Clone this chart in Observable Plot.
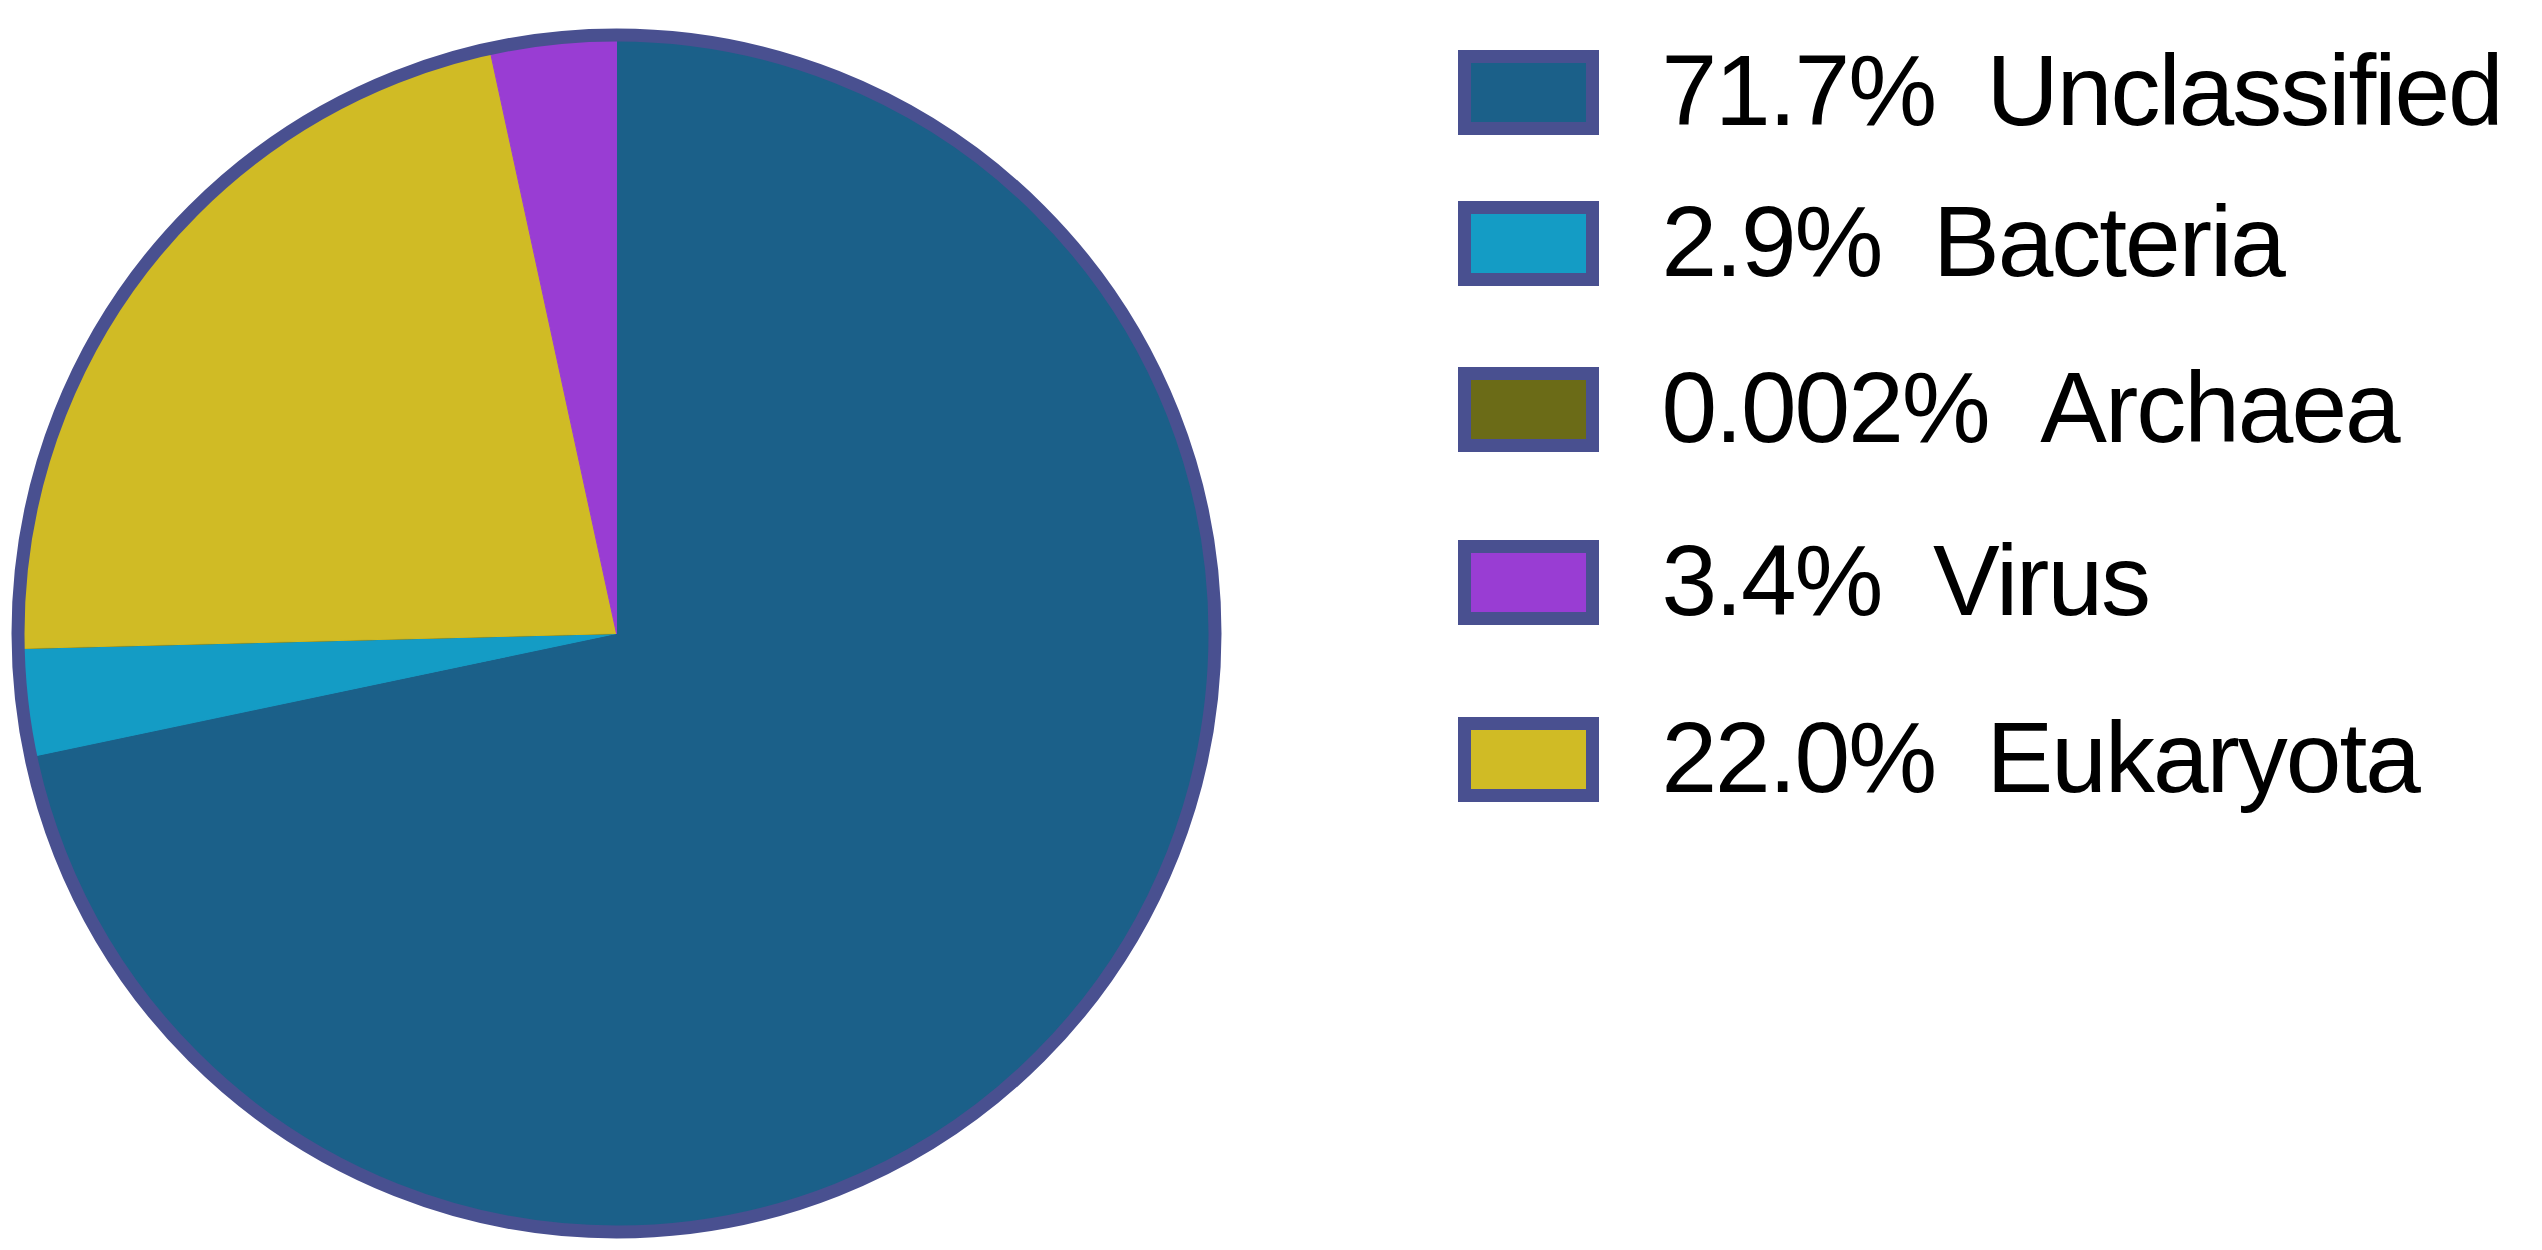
<!DOCTYPE html>
<html>
<head>
<meta charset="utf-8">
<script src="https://cdn.jsdelivr.net/npm/d3@7"></script>
<script src="https://cdn.jsdelivr.net/npm/@observablehq/plot@0.6"></script>
<style>
  html, body { margin: 0; padding: 0; background: #fff; }
  #chart svg { display: block; }
  #chart text { letter-spacing: -2px; }
</style>
</head>
<body>
<div id="chart"></div>
<script>
// ---- data ----
const names = ["Unclassified", "Bacteria", "Archaea", "Virus", "Eukaryota"];
const values = [71.7, 2.9, 0.002, 3.4, 22.0];
const valueLabels = ["71.7", "2.9", "0.002", "3.4", "22.0"];
const colors = ["#1b6089", "#149cc5", "#6b6b17", "#993dd3", "#d0bb25"];
const pieOrder = ["Unclassified", "Bacteria", "Archaea", "Eukaryota", "Virus"];

// ---- layout ----
const W = 2542, H = 1250;
const cx = 616, cy = 633, R = 598.5;   // pie centre and border radius (px)
const borderColor = "#495090";
const legendBoxX1 = 1464.5, legendBoxX2 = 1592.5, legendBoxH = 72;
const legendRowY = [92.5, 243.5, 409.5, 582.5, 759.5];
const legendTextX = 1661;

const byName = new Map(names.map((n, i) => [n, values[i]]));
const total = d3.sum(pieOrder, n => byName.get(n));

// slice outlines from the values (angle clockwise from 12 o'clock)
const slicePts = [];
let acc = 0;
for (const n of pieOrder) {
  const a0 = acc / total * 2 * Math.PI;
  acc += byName.get(n);
  const a1 = acc / total * 2 * Math.PI;
  const steps = Math.max(2, Math.ceil((a1 - a0) / (Math.PI / 720)));
  slicePts.push({name: n, x: cx, y: cy});
  for (let k = 0; k <= steps; k++) {
    const a = a0 + (a1 - a0) * k / steps;
    slicePts.push({name: n, x: cx + R * Math.sin(a), y: cy - R * Math.cos(a)});
  }
  slicePts.push({name: n, x: cx, y: cy});
}

const legend = names.map((n, i) => ({
  name: n,
  label: `${valueLabels[i]}%\u00a0\u00a0${n}`,
  yc: legendRowY[i]
}));

const chart = Plot.plot({
  width: W,
  height: H,
  margin: 0,
  x: {domain: [0, W], range: [0, W], axis: null},
  y: {domain: [0, H], range: [0, H], axis: null},
  color: {domain: names, range: colors},
  style: {fontFamily: "'Liberation Sans', Arial, sans-serif", background: "#fff"},
  marks: [
    Plot.line(slicePts, {x: "x", y: "y", z: "name", fill: "name", stroke: "name", strokeWidth: 1, curve: "linear"}),
    Plot.dot([{x: cx, y: cy}], {x: "x", y: "y", r: R, fill: "none", stroke: borderColor, strokeWidth: 13}),
    Plot.rect(legend, {
      x1: () => legendBoxX1, x2: () => legendBoxX2,
      y1: d => d.yc - legendBoxH / 2, y2: d => d.yc + legendBoxH / 2,
      fill: "name", stroke: borderColor, strokeWidth: 13
    }),
    Plot.text(legend, {
      x: () => legendTextX, y: "yc", text: "label",
      textAnchor: "start", lineAnchor: "middle",
      fontSize: 100, fill: "#000"
    })
  ]
});
document.getElementById("chart").appendChild(chart);
</script>
</body>
</html>
